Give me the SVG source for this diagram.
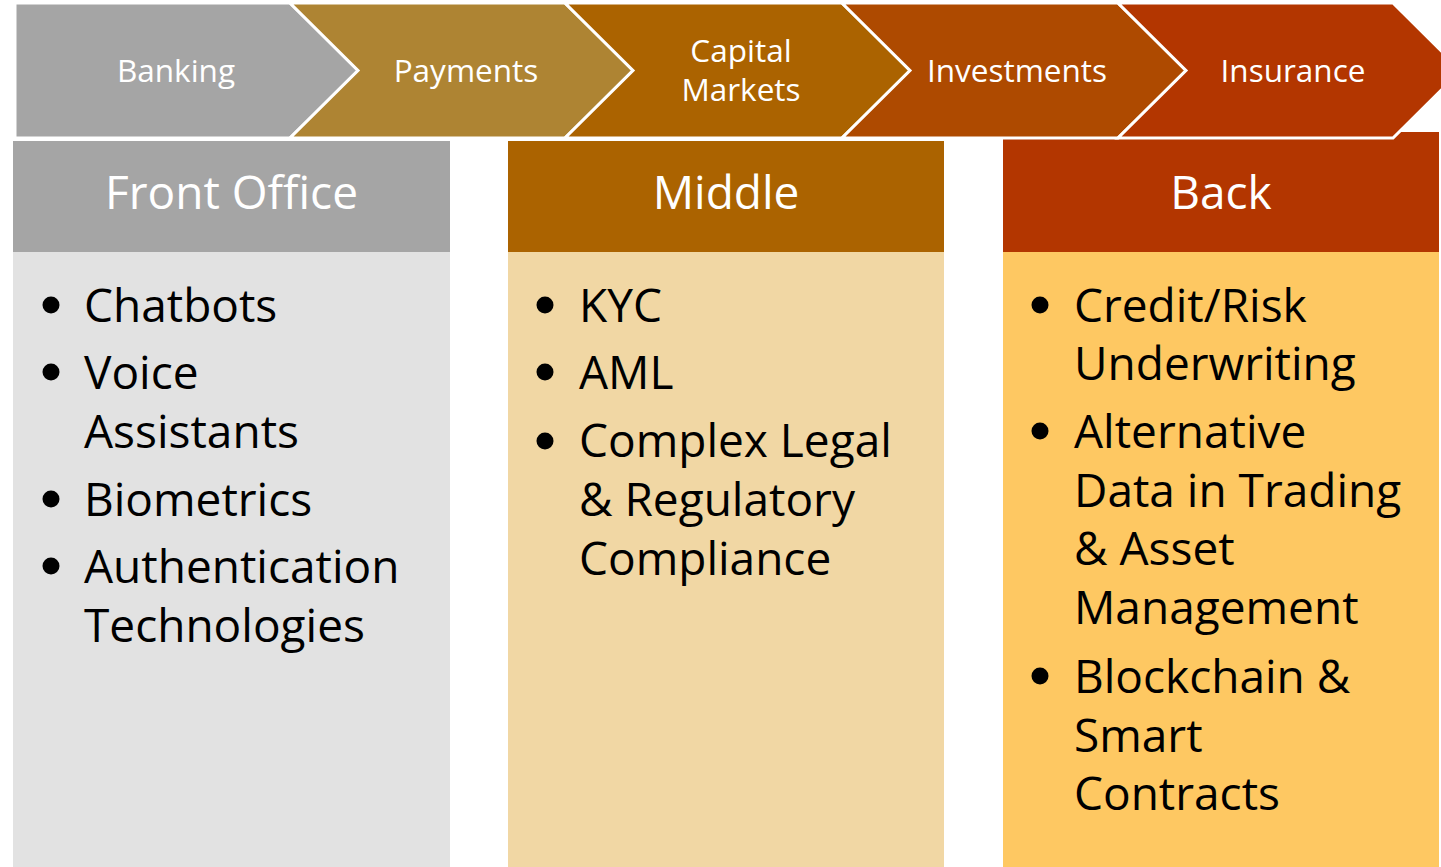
<svg xmlns="http://www.w3.org/2000/svg" width="1441" height="867" viewBox="0 0 1441 867">
<style>
.chev{stroke:#ffffff;stroke-width:3;stroke-linejoin:miter}
.ct{font-family:"Open Sans","Liberation Sans",sans-serif;font-size:31.5px;fill:#ffffff;text-anchor:middle}
.ht{font-family:"Open Sans","Liberation Sans",sans-serif;font-size:46px;fill:#ffffff;text-anchor:middle}
.bt{font-family:"Open Sans","Liberation Sans",sans-serif;font-size:46px;fill:#000000}
.dot{fill:#000000}
</style>
<rect width="1441" height="867" fill="#ffffff"/>

<g id="col-front">
  <rect x="13" y="141" width="437" height="111" fill="#a5a5a5"/>
  <rect x="13" y="252" width="437" height="615" fill="#e2e2e2"/>
  <text class="ht" x="231.5" y="209">Front Office</text>
  <circle class="dot" cx="51" cy="305" r="8.5"/>
  <circle class="dot" cx="51" cy="372" r="8.5"/>
  <circle class="dot" cx="51" cy="499" r="8.5"/>
  <circle class="dot" cx="51" cy="566" r="8.5"/>
  <text class="bt" x="84" y="322">Chatbots</text>
  <text class="bt" x="84" y="389">Voice</text>
  <text class="bt" x="84" y="448">Assistants</text>
  <text class="bt" x="84" y="516">Biometrics</text>
  <text class="bt" x="84" y="583">Authentication</text>
  <text class="bt" x="84" y="642">Technologies</text>
</g>

<g id="col-middle">
  <rect x="508" y="141" width="436" height="111" fill="#ab6300"/>
  <rect x="508" y="252" width="436" height="615" fill="#f1d7a4"/>
  <text class="ht" x="726" y="209">Middle</text>
  <circle class="dot" cx="545" cy="305" r="8.5"/>
  <circle class="dot" cx="545" cy="372" r="8.5"/>
  <circle class="dot" cx="545" cy="441" r="8.5"/>
  <text class="bt" x="579" y="322">KYC</text>
  <text class="bt" x="579" y="389">AML</text>
  <text class="bt" x="579" y="457">Complex Legal</text>
  <text class="bt" x="579" y="516">&amp; Regulatory</text>
  <text class="bt" x="579" y="575">Compliance</text>
</g>

<g id="col-back">
  <rect x="1003" y="132" width="436" height="120" fill="#b33600"/>
  <rect x="1003" y="252" width="436" height="615" fill="#fec862"/>
  <text class="ht" x="1221" y="209">Back</text>
  <circle class="dot" cx="1040" cy="305" r="8.5"/>
  <circle class="dot" cx="1040" cy="431" r="8.5"/>
  <circle class="dot" cx="1040" cy="676" r="8.5"/>
  <text class="bt" x="1074" y="322">Credit/Risk</text>
  <text class="bt" x="1074" y="380">Underwriting</text>
  <text class="bt" x="1074" y="448">Alternative</text>
  <text class="bt" x="1074" y="507">Data in Trading</text>
  <text class="bt" x="1074" y="565">&amp; Asset</text>
  <text class="bt" x="1074" y="624">Management</text>
  <text class="bt" x="1074" y="693">Blockchain &amp;</text>
  <text class="bt" x="1074" y="752">Smart</text>
  <text class="bt" x="1074" y="810">Contracts</text>
</g>

<g id="chev-banking">
  <path class="chev" fill="#a5a5a5" d="M15,3 L290,3 L358,70.5 L290,138 L15,138 Z"/>
  <text class="ct" x="176" y="82">Banking</text>
</g>
<g id="chev-payments">
  <path class="chev" fill="#ae8433" d="M290,3 L565,3 L633,70.5 L565,138 L290,138 L358,70.5 Z"/>
  <text class="ct" x="466" y="82">Payments</text>
</g>
<g id="chev-capital">
  <path class="chev" fill="#ab6300" d="M565,3 L842,3 L910,70.5 L842,138 L565,138 L633,70.5 Z"/>
  <text class="ct" x="741" y="62">Capital</text>
  <text class="ct" x="741" y="101">Markets</text>
</g>
<g id="chev-investments">
  <path class="chev" fill="#ae4a00" d="M842,3 L1118,3 L1186,70.5 L1118,138 L842,138 L910,70.5 Z"/>
  <text class="ct" x="1017" y="82">Investments</text>
</g>
<g id="chev-insurance">
  <path class="chev" fill="#b33600" d="M1118,3 L1393,3 L1461,70.5 L1393,138 L1118,138 L1186,70.5 Z"/>
  <text class="ct" x="1293" y="82">Insurance</text>
</g>
<g id="connectors"/>
</svg>
